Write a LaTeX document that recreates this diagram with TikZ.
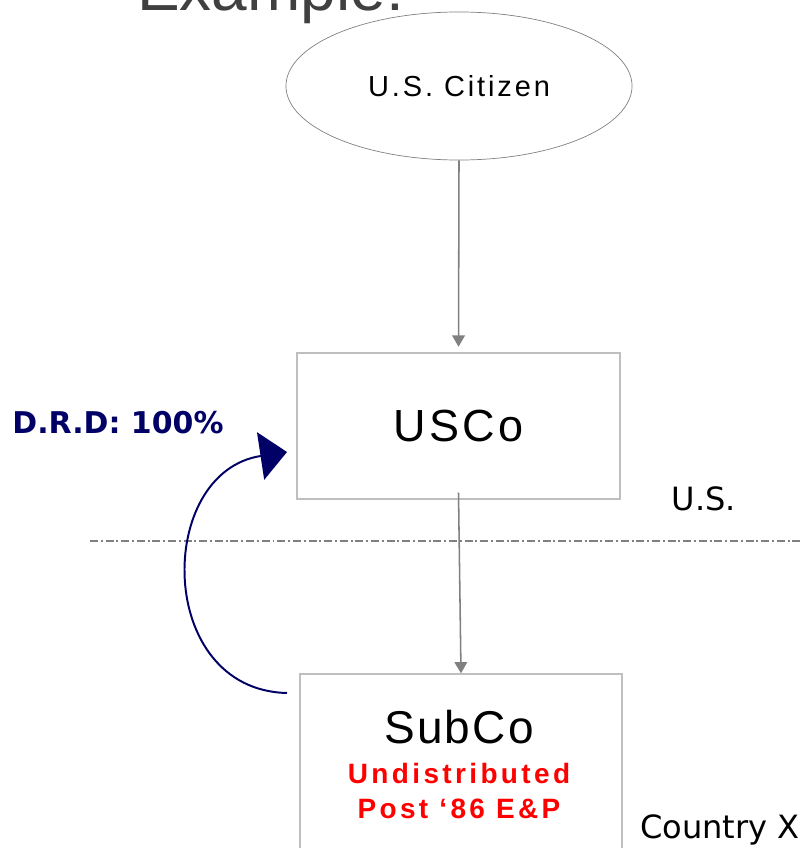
\documentclass[tikz,border=0pt]{standalone}
\usepackage{fontspec}
\setmainfont{Liberation Sans}
\newfontfamily\verdana{DejaVu Sans}
\usepackage{xcolor}
\usepackage{tikz}
\usetikzlibrary{arrows.meta,shapes.geometric}
\definecolor{drdnavy}{rgb}{0.0, 0.0, 0.4}
\definecolor{boxgray}{rgb}{0.75, 0.75, 0.75}
\definecolor{linegray}{rgb}{0.5, 0.5, 0.5}
\definecolor{titlegray}{rgb}{0.25, 0.25, 0.25}

\tikzset{
    entitybox/.style={draw=boxgray, line width=0.9pt, inner sep=0pt},
    flowarrow/.style={-{Triangle[length=8pt, width=9pt]}, line width=1.1pt, draw=linegray},
    sidelabel/.style={font=\verdana\fontsize{22.8}{26}\selectfont, inner sep=0pt},
}

\begin{document}
\begin{tikzpicture}[x=0.025cm, y=-0.025cm]
    \useasboundingbox (0,0) rectangle (803,848);

    \node(title)[anchor=base west, text=titlegray, inner sep=0pt,
        font=\fontsize{45.5}{50}\selectfont]
        at (137, 10) {Example:};

    % entities
    \node(citizen)[ellipse, draw=gray, line width=0.5pt, inner sep=0pt,
        minimum width=8.65cm, minimum height=3.7cm,
        font=\fontsize{20.6}{24}\selectfont\addfontfeature{LetterSpace=10}]
        at (459, 86) {U.S. Citizen};

    \node(usco)[entitybox, minimum width=8.075cm, minimum height=3.65cm,
        font=\fontsize{32}{36}\selectfont\addfontfeature{LetterSpace=8}]
        at (458.5, 426) {USCo};

    \node(subco)[entitybox, minimum width=8.05cm, minimum height=4.55cm]
        at (461, 765) {};
    \node(subco-name)[inner sep=0pt,
        font=\fontsize{32.7}{36}\selectfont\addfontfeature{LetterSpace=5}]
        at (459, 727) {SubCo};
    \node(subco-ep)[inner sep=0pt, align=center, text=red,
        font=\bfseries\fontsize{19.9}{24.5}\selectfont\addfontfeature{LetterSpace=12}]
        at (459, 791) {Undistributed\\Post ‘86 E\&P};

    % border
    \coordinate(border-west) at (90, 541);
    \coordinate(border-east) at (803, 541);
    \draw[linegray, line width=1pt, dash pattern=on 5.7pt off 2pt on 1.4pt off 2pt]
        (border-west) -- (border-east);
    \node(us)[sidelabel] at (704, 499) {U.S.};
    \node(countryx)[sidelabel] at (720, 830) {Country X};

    % flows
    \draw[flowarrow, shorten >=4pt] (citizen.south) -- (usco.north);
    \draw[flowarrow] ([yshift=5pt]usco.south) -- (subco.north);

    \coordinate(drd-start) at (287, 693);
    \coordinate(drd-end) at (287, 452);
    \draw[-{Triangle[length=19pt, width=34pt]}, drdnavy, line width=1.4pt]
        (drd-start) .. controls (155, 690) and (155, 472) .. (drd-end);
    \node(drd)[text=drdnavy, inner sep=0pt,
        font=\verdana\bfseries\fontsize{21.3}{25}\selectfont]
        at (118, 423) {D.R.D: 100\%};
\end{tikzpicture}
\end{document}
